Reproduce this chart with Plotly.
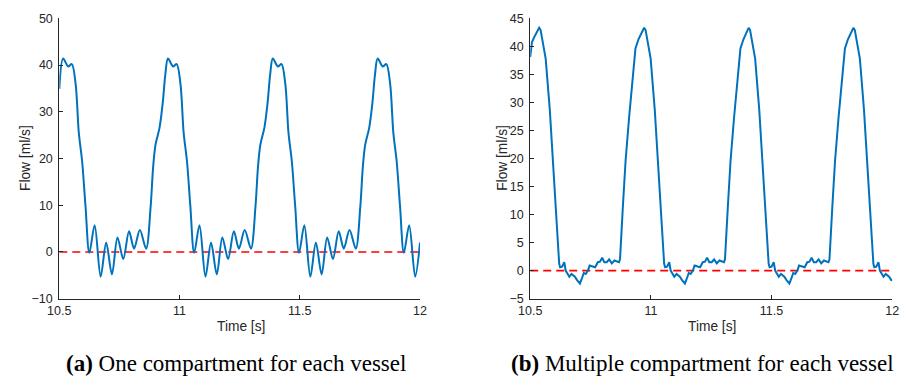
import plotly.graph_objects as go

# ---- Data ----
t_one = [10.500, 10.516, 10.537, 10.552, 10.568, 10.581, 10.595, 10.609, 10.625, 10.647, 10.672, 10.695,
         10.719, 10.742, 10.766, 10.790, 10.811, 10.835, 10.861, 10.880, 10.890, 10.900, 10.917, 10.930, 10.941,
         10.952, 10.973, 10.988, 11.004, 11.017, 11.031, 11.045, 11.061, 11.083, 11.108, 11.131,
         11.155, 11.178, 11.202, 11.226, 11.247, 11.271, 11.297, 11.316, 11.326, 11.336, 11.353, 11.366, 11.377,
         11.388, 11.409, 11.424, 11.440, 11.453, 11.467, 11.481, 11.497, 11.519, 11.544, 11.567,
         11.591, 11.614, 11.638, 11.662, 11.683, 11.707, 11.733, 11.752, 11.762, 11.772, 11.789, 11.802, 11.813,
         11.824, 11.845, 11.860, 11.876, 11.889, 11.903, 11.917, 11.933, 11.955, 11.980, 12.000]
flow_one = [34.9, 41.4, 39.7, 40.2, 35.9, 25.6, 19.4, 9.8, -0.2, 5.7, -5.3, 2.0,
            -4.8, 3.1, -1.5, 4.4, 0.7, 4.7, 0.7, 9.8, 18.0, 22.9, 26.6, 31.8, 38.0,
            41.4, 39.7, 40.2, 35.9, 25.6, 19.4, 9.8, -0.2, 5.7, -5.3, 2.0,
            -4.8, 3.1, -1.5, 4.4, 0.7, 4.7, 0.7, 9.8, 18.0, 22.9, 26.6, 31.8, 38.0,
            41.4, 39.7, 40.2, 35.9, 25.6, 19.4, 9.8, -0.2, 5.7, -5.3, 2.0,
            -4.8, 3.1, -1.5, 4.4, 0.7, 4.7, 0.7, 9.8, 18.0, 22.9, 26.6, 31.8, 38.0,
            41.4, 39.7, 40.2, 35.9, 25.6, 19.4, 9.8, -0.2, 5.7, -5.3, 2.0]

t_multi = [10.500, 10.507, 10.516, 10.526, 10.537, 10.543, 10.564, 10.581, 10.597, 10.611, 10.620, 10.624,
           10.632, 10.641, 10.647, 10.654, 10.662, 10.671, 10.685, 10.694, 10.706, 10.714, 10.722, 10.730,
           10.739, 10.746, 10.757, 10.769, 10.780, 10.789, 10.798, 10.807, 10.817, 10.827, 10.838, 10.849,
           10.868, 10.872, 10.884, 10.895, 10.909, 10.922, 10.936, 10.949, 10.961,
           10.972, 10.978, 10.999, 11.016, 11.032, 11.046, 11.055, 11.059, 11.067, 11.076, 11.082, 11.089,
           11.097, 11.106, 11.120, 11.129, 11.141, 11.149, 11.157, 11.165, 11.174, 11.181, 11.192, 11.204,
           11.215, 11.224, 11.233, 11.242, 11.252, 11.262, 11.273, 11.284, 11.303, 11.307, 11.319, 11.330,
           11.344, 11.357, 11.371, 11.384, 11.396,
           11.405, 11.411, 11.432, 11.449, 11.465, 11.479, 11.488, 11.492, 11.500, 11.509, 11.515, 11.522,
           11.530, 11.539, 11.553, 11.562, 11.574, 11.582, 11.590, 11.598, 11.607, 11.614, 11.625, 11.637,
           11.648, 11.657, 11.666, 11.675, 11.685, 11.695, 11.706, 11.717, 11.736, 11.740, 11.752, 11.763,
           11.777, 11.790, 11.804, 11.817, 11.829,
           11.839, 11.845, 11.866, 11.883, 11.899, 11.913, 11.922, 11.926, 11.934, 11.943, 11.949, 11.956,
           11.964, 11.973, 11.987, 11.996, 12.000]
flow_multi = [38.1, 40.7, 41.6, 42.4, 43.3, 42.9, 37.8, 28.7, 16.6, 5.8, 1.2, 0.6,
              0.7, 1.5, 0.0, -0.5, -1.1, -0.6, -1.1, -1.7, -2.3, -1.4, -0.4, -0.6,
              0.0, 0.9, 0.7, 0.6, 1.5, 1.6, 2.3, 1.5, 1.5, 2.0, 1.3, 1.8,
              1.5, 2.0, 11.5, 19.5, 27.0, 33.8, 39.6, 41.3, 42.4,
              43.3, 42.9, 37.8, 28.7, 16.6, 5.8, 1.2, 0.6, 0.7, 1.5, 0.0, -0.5,
              -1.1, -0.6, -1.1, -1.7, -2.3, -1.4, -0.4, -0.6, 0.0, 0.9, 0.7, 0.6,
              1.5, 1.6, 2.3, 1.5, 1.5, 2.0, 1.3, 1.8, 1.5, 2.0, 11.5, 19.5,
              27.0, 33.8, 39.6, 41.3, 42.4,
              43.3, 42.9, 37.8, 28.7, 16.6, 5.8, 1.2, 0.6, 0.7, 1.5, 0.0, -0.5,
              -1.1, -0.6, -1.1, -1.7, -2.3, -1.4, -0.4, -0.6, 0.0, 0.9, 0.7, 0.6,
              1.5, 1.6, 2.3, 1.5, 1.5, 2.0, 1.3, 1.8, 1.5, 2.0, 11.5, 19.5,
              27.0, 33.8, 39.6, 41.3, 42.4,
              43.3, 42.9, 37.8, 28.7, 16.6, 5.8, 1.2, 0.6, 0.7, 1.5, 0.0, -0.5,
              -1.1, -0.6, -1.1, -1.7, -1.6]

x_range = [10.5, 12]
x_ticks = [10.5, 11, 11.5, 12]
x_ticklabels = ["10.5", "11", "11.5", "12"]
y1_ticks = [-10, 0, 10, 20, 30, 40, 50]
y2_ticks = [-5, 0, 5, 10, 15, 20, 25, 30, 35, 40, 45]
ref_x = [10.5, 12]
ref_y = [0, 0]

BLUE = "#0072BD"
AX = "#262626"
W, H = 909, 384

fig = go.Figure()
fig.add_trace(go.Scatter(x=ref_x, y=ref_y, mode="lines", xaxis="x", yaxis="y",
                         line=dict(color="#FF0000", width=1.6, dash="8px,5px"), showlegend=False))
fig.add_trace(go.Scatter(x=t_one, y=flow_one, mode="lines", xaxis="x", yaxis="y",
                         line=dict(color=BLUE, width=2, shape="spline", smoothing=0.9), showlegend=False))
fig.add_trace(go.Scatter(x=ref_x, y=ref_y, mode="lines", xaxis="x2", yaxis="y2",
                         line=dict(color="#FF0000", width=1.6, dash="8px,5px"), showlegend=False))
fig.add_trace(go.Scatter(x=t_multi, y=flow_multi, mode="lines", xaxis="x2", yaxis="y2",
                         line=dict(color=BLUE, width=2), showlegend=False))

def px_x(p):
    return p / W

def px_y(p):
    return 1 - p / H

ydom = [px_y(302.7), px_y(11.7)]
tickfont = dict(family="Liberation Sans, Arial, sans-serif", size=12.5, color=AX)
common_x = dict(range=x_range, tickvals=x_ticks, ticktext=x_ticklabels, ticks="inside", ticklen=4,
                tickcolor=AX, showline=True, linecolor=AX, linewidth=1, showgrid=False, zeroline=False,
                tickfont=tickfont, fixedrange=True)
common_y = dict(ticks="inside", ticklen=4, tickcolor=AX, showline=True, linecolor=AX, linewidth=1,
                showgrid=False, zeroline=False, tickfont=tickfont, fixedrange=True, ticklabelstandoff=3)

fig.update_layout(
    width=W, height=H, margin=dict(l=0, r=0, t=0, b=0),
    paper_bgcolor="white", plot_bgcolor="white",
    xaxis=dict(domain=[px_x(48.3), px_x(416.7)], anchor="y", **common_x),
    yaxis=dict(domain=ydom, anchor="x", range=[-10, 50], tickvals=y1_ticks, **common_y),
    xaxis2=dict(domain=[px_x(529.3), px_x(899)], anchor="y2", **common_x),
    yaxis2=dict(domain=ydom, anchor="x2", range=[-5, 45], tickvals=y2_ticks, **common_y),
)

lab = dict(family="Liberation Sans, Arial, sans-serif", size=13.75, color=AX)
cap = dict(family="Liberation Serif, Times New Roman, serif", size=23, color="black")
annots = [
    dict(x=px_x(233.5), y=px_y(332), text="Time [s]", font=lab),
    dict(x=px_x(714.5), y=px_y(332), text="Time [s]", font=lab),
    dict(x=px_x(14), y=px_y(157), text="Flow [ml/s]", font=lab, textangle=-90),
    dict(x=px_x(501), y=px_y(157), text="Flow [ml/s]", font=lab, textangle=-90),
    dict(x=px_x(229), y=px_y(370), text="<b>(a)</b> One compartment for each vessel", font=cap),
    dict(x=px_x(705), y=px_y(370), text="<b>(b)</b> Multiple compartment for each vessel", font=cap),
]
for a in annots:
    a.update(xref="paper", yref="paper", showarrow=False, xanchor="center", yanchor="middle")
fig.update_layout(annotations=annots)

fig.write_html("out.html")
